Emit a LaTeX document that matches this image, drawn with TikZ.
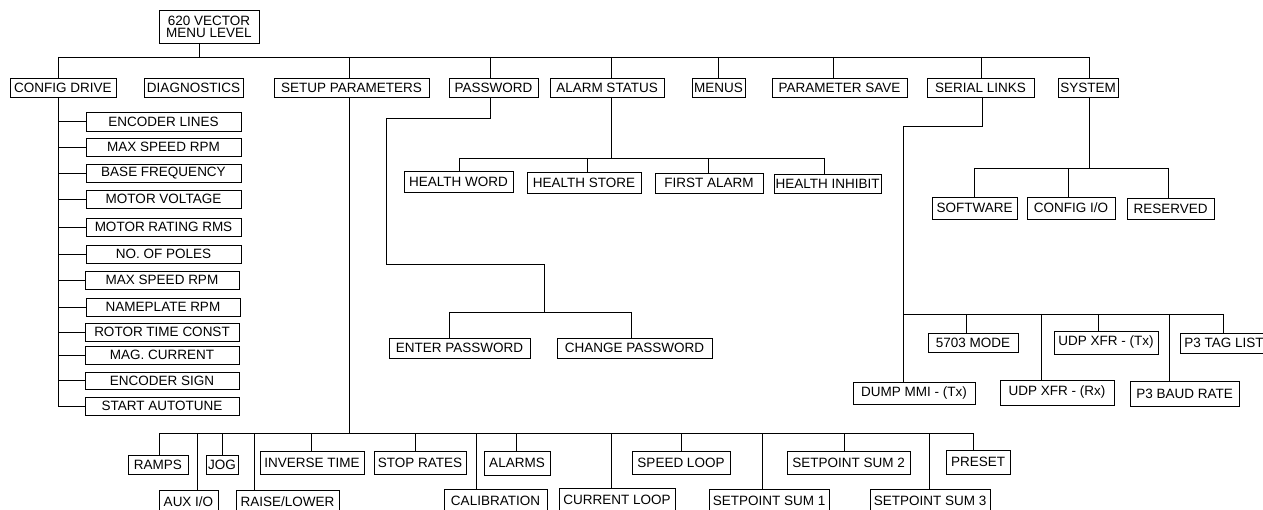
\documentclass[tikz,border=0pt]{standalone}
\usepackage{fontspec}
\setmainfont{Liberation Sans}
\newcommand\mybox[6]{\node[bx, minimum width={#4-#2}, minimum height={#5-#3}] (#1) at ({(#2+#4)/2},{(#3+#5)/2}) {#6};}
\begin{document}
\begin{tikzpicture}[x=1pt,y=-1pt,
  bx/.style={draw, line width=0.9pt, inner sep=0pt, outer sep=0pt, font=\fontsize{13.5}{12}\selectfont, align=center},
  ln/.style={line width=0.9pt}]
\useasboundingbox (0,0) rectangle (1263,510);
\clip (0,0) rectangle (1263,510);

% top
\mybox{top}{159}{10}{259}{43}{620 VECTOR\\MENU LEVEL}
% level 1
\mybox{cfg}{10}{78}{116}{97}{CONFIG DRIVE}
\mybox{diag}{144}{78}{243}{97}{DIAGNOSTICS}
\mybox{setup}{274}{78}{429}{97}{SETUP PARAMETERS}
\mybox{pw}{449}{78}{538}{97}{PASSWORD}
\mybox{alarm}{550}{78}{664}{97}{ALARM STATUS}
\mybox{menus}{692}{78}{745}{97}{MENUS}
\mybox{psave}{772}{78}{907}{97}{PARAMETER SAVE}
\mybox{serial}{927}{78}{1034}{97}{SERIAL LINKS}
\mybox{system}{1058}{78}{1118}{97}{SYSTEM}

\coordinate (busL) at (58,57);
\coordinate (busR) at (1089,57);
\draw[ln] (busL) -- (busR);
\draw[ln] (199,0 |- top.south) -- (199,57);
\foreach \x/\n in {58/cfg,349/setup,490/pw,611/alarm,718/menus,833/psave,981/serial,1089/system}
  \draw[ln] (\x,57) -- (\x,0 |- \n.north);

% config drive
\mybox{c1}{86}{112}{241}{131}{ENCODER LINES}
\mybox{c2}{86}{138}{241}{156}{MAX SPEED RPM}
\mybox{c3}{86}{164}{241}{182}{BASE FREQUENCY}
\mybox{c4}{86}{190}{241}{208}{MOTOR VOLTAGE}
\mybox{c5}{86}{218}{241}{236}{MOTOR RATING RMS}
\mybox{c6}{86}{245}{241}{263}{NO. OF POLES}
\mybox{c7}{85}{271}{239}{289}{MAX SPEED RPM}
\mybox{c8}{86}{298}{240}{316}{NAMEPLATE RPM}
\mybox{c9}{85}{323}{239}{341}{ROTOR TIME CONST}
\mybox{c10}{85}{346}{239}{364}{MAG. CURRENT}
\mybox{c11}{85}{372}{239}{389}{ENCODER SIGN}
\mybox{c12}{85}{397}{239}{415}{START AUTOTUNE}
\draw[ln] (58,0 |- cfg.south) -- (58,0 |- c12.west);
\foreach \n in {c1,c2,c3,c4,c5,c6,c7,c8,c9,c10,c11,c12}
  \draw[ln] (58,0 |- \n.west) -- (\n.west);

% setup parameters
\draw[ln] (349,0 |- setup.south) -- (349,433);
\draw[ln] (159,433) -- (973,433);
\mybox{ramps}{128}{455}{188}{474}{RAMPS}
\mybox{jog}{206}{455}{238}{474}{JOG}
\mybox{inv}{260}{451}{364}{474}{INVERSE TIME}
\mybox{stop}{374}{451}{466}{474}{STOP RATES}
\mybox{alarms}{484}{451}{550}{475}{ALARMS}
\mybox{speed}{632}{451}{730}{474}{SPEED LOOP}
\mybox{ss2}{787}{451}{910}{474}{SETPOINT SUM 2}
\mybox{preset}{946}{450}{1010}{474}{PRESET}
\mybox{aux}{159}{490}{218}{514}{AUX I/O}
\mybox{raise}{236}{490}{339}{514}{RAISE/LOWER}
\mybox{calib}{444}{489}{547}{513}{CALIBRATION}
\mybox{curr}{559}{488}{675}{512}{CURRENT LOOP}
\mybox{ss1}{709}{489}{829}{513}{SETPOINT SUM 1}
\mybox{ss3}{870}{489}{990}{513}{SETPOINT SUM 3}
\foreach \x/\n in {159/ramps,222/jog,311/inv,415/stop,516/alarms,681/speed,844/ss2,973/preset,197/aux,254/raise,476/calib,611/curr,762/ss1,929/ss3}
  \draw[ln] (\x,433) -- (\x,0 |- \n.north);

% password
\mybox{ep}{389}{338}{530}{358}{ENTER PASSWORD}
\mybox{cp}{557}{338}{712}{358}{CHANGE PASSWORD}
\draw[ln] (490,0 |- pw.south) -- (490,118) -- (386,118) -- (386,264) -- (544,264) -- (544,312);
\draw[ln] (449,312) -- (631,312);
\foreach \x/\n in {449/ep,631/cp}
  \draw[ln] (\x,312) -- (\x,0 |- \n.north);

% alarm status
\mybox{hw}{404}{171}{513}{192}{HEALTH WORD}
\mybox{hs}{527}{172}{641}{193}{HEALTH STORE}
\mybox{fa}{655}{173}{763}{193}{FIRST ALARM}
\mybox{hi}{774}{174}{881}{193}{HEALTH INHIBIT}
\draw[ln] (611,0 |- alarm.south) -- (611,158);
\draw[ln] (459,158) -- (824,158);
\foreach \x/\n in {459/hw,587/hs,708/fa,824/hi}
  \draw[ln] (\x,158) -- (\x,0 |- \n.north);

% system
\mybox{sw}{932}{197}{1017}{219}{SOFTWARE}
\mybox{cio}{1027}{197}{1115}{219}{CONFIG I/O}
\mybox{res}{1127}{198}{1214}{219}{RESERVED}
\draw[ln] (1089,0 |- system.south) -- (1089,168);
\draw[ln] (974,168) -- (1168,168);
\foreach \x/\n in {974/sw,1068/cio,1168/res}
  \draw[ln] (\x,168) -- (\x,0 |- \n.north);

% serial links
\mybox{dump}{853}{382}{975}{404}{DUMP MMI - (Tx)}
\mybox{mode}{928}{333}{1018}{352}{5703 MODE}
\mybox{udprx}{1000}{380}{1114}{405}{UDP XFR - (Rx)}
\mybox{udptx}{1054}{331}{1158}{354}{UDP XFR - (Tx)}
\mybox{baud}{1130}{381}{1239}{406}{P3 BAUD RATE}
\mybox{tag}{1180}{333}{1268}{353}{P3 TAG LIST}
\draw[ln] (982,0 |- serial.south) -- (982,126) -- (903,126) -- (903,0 |- dump.north);
\draw[ln] (903,314) -- (1224,314);
\foreach \x/\n in {966/mode,1041/udprx,1098/udptx,1169/baud,1223/tag}
  \draw[ln] (\x,314) -- (\x,0 |- \n.north);
\end{tikzpicture}
\end{document}
